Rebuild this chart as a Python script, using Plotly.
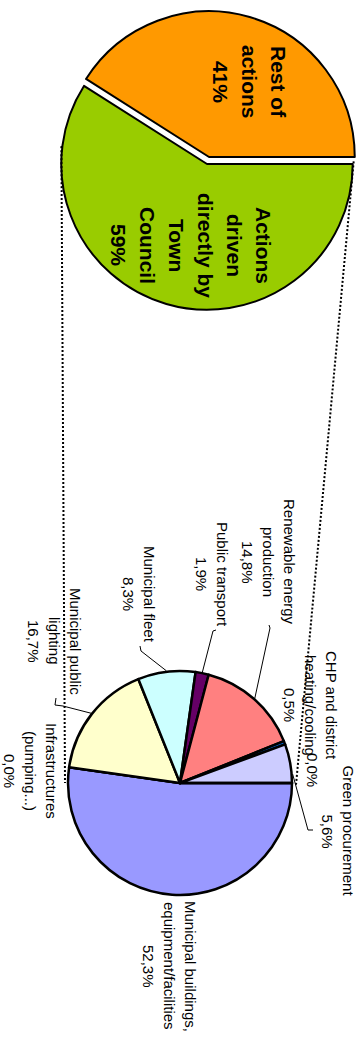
import math
import plotly.graph_objects as go

# ---------------- data ----------------
top_labels = ["Actions\ndriven\ndirectly by\nTown\nCouncil", "Rest of\nactions"]
top_values = [59, 41]
top_colors = ["#99CC00", "#FF9900"]

bottom_labels = [
    "Municipal buildings,\nequipment/facilities",
    "Infrastructures\n(pumping...)",
    "Municipal public\nlighting",
    "Municipal fleet",
    "Public transport",
    "Renewable energy\nproduction",
    "CHP and district\nheating/cooling",
    "Green procurement",
    "",
]
bottom_values = [52.3, 0.0, 16.7, 8.3, 1.9, 14.8, 0.5, 5.6, 0.0]
bottom_colors = ["#9999FF", "#993366", "#FFFFCC", "#CCFFFF", "#660066",
                 "#FF8080", "#0066CC", "#CCCCFF", "#000080"]

# ---------------- layout helpers ----------------
W, H = 360, 1040
FONT = "Arial, 'Liberation Sans', sans-serif"


def px(x):
    return x / W


def py(y):
    return 1 - y / H


TOP_C = (207.0, 164.0)
TOP_PULL = 0.05
TOP_BOX_X = (54.0, 360.0)
TOP_BOX_Y = (4.0, 324.0)
TOP_R = min(TOP_BOX_X[1] - TOP_BOX_X[0], TOP_BOX_Y[1] - TOP_BOX_Y[0]) / 2 / (1 + TOP_PULL)

BOT_C = (180.0, 783.0)
BOT_R = 112.0

fig = go.Figure()

fig.add_trace(go.Pie(
    values=top_values, labels=[l.replace("\n", " ") for l in top_labels],
    marker=dict(colors=top_colors, line=dict(color="black", width=2)),
    sort=False, direction="clockwise", rotation=90,
    pull=[0, TOP_PULL], textinfo="none", hoverinfo="label+percent",
    domain=dict(x=[px(TOP_BOX_X[0]), px(TOP_BOX_X[1])],
                y=[py(TOP_BOX_Y[1]), py(TOP_BOX_Y[0])]),
    showlegend=False,
))

fig.add_trace(go.Pie(
    values=bottom_values, labels=[l.replace("\n", " ") or "(other)" for l in bottom_labels],
    marker=dict(colors=bottom_colors, line=dict(color="black", width=2.5)),
    sort=False, direction="clockwise", rotation=90,
    textinfo="none", hoverinfo="label+percent",
    domain=dict(x=[px(BOT_C[0] - BOT_R), px(BOT_C[0] + BOT_R)],
                y=[py(BOT_C[1] + BOT_R), py(BOT_C[1] - BOT_R)]),
    showlegend=False,
))

annotations = []


def add_rotated_label(lines, cx, cy, size, spacing, bold=False):
    n = len(lines)
    for k, t in enumerate(lines):
        x = cx + ((n - 1) / 2 - k) * spacing
        txt = f"<b>{t}</b>" if bold else t
        annotations.append(dict(
            x=px(x), y=py(cy), xref="paper", yref="paper", text=txt,
            textangle=90, showarrow=False, xanchor="center", yanchor="middle",
            font=dict(family=FONT, size=size, color="black"),
        ))


# top pie labels
top_total = sum(top_values)
top_label_pos = [(191.5, 245.0), (249.0, 82.0)]
for lab, v, (cx, cy) in zip(top_labels, top_values, top_label_pos):
    lines = lab.split("\n") + [f"{round(100 * v / top_total)}%"]
    add_rotated_label(lines, cx, cy, 21, 29, bold=True)

# bottom pie labels
bot_label_pos = [(170, 966), (31, 771), (55, 641), (139.5, 594), (212.5, 574),
                 (269, 562), (311, 705), (338, 831), (313, 770)]
for lab, v, (cx, cy) in zip(bottom_labels, bottom_values, bot_label_pos):
    pct = f"{v:.1f}".replace(".", ",") + "%"
    lines = (lab.split("\n") if lab else []) + [pct]
    add_rotated_label(lines, cx, cy, 15, 21)

# slice mid angles (math convention, CCW from east), clockwise from east
total = sum(bottom_values)
mid_angles = []
acc = 0.0
for v in bottom_values:
    a0 = -acc / total * 360
    acc += v
    a1 = -acc / total * 360
    mid_angles.append((a0 + a1) / 2)


def on_circle(c, r, ang):
    return (c[0] + r * math.cos(math.radians(ang)), c[1] - r * math.sin(math.radians(ang)))


# leader lines: (slice index, start-angle override, elbow points)
leaders = [
    (5, None, [(270, 628), (269, 625)]),
    (4, None, [(213, 631), (216, 630)]),
    (3, None, [(141, 651), (140, 646)]),
    (2, None, [(63, 706), (55, 705), (56, 698)]),
    (7, 4.5, [(308, 830), (313, 830)]),
]
shapes = []
for idx, ang, pts in leaders:
    a = mid_angles[idx] % 360 if ang is None else ang
    s = on_circle(BOT_C, BOT_R + 1, a)
    path = f"M {px(s[0])} {py(s[1])} " + " ".join(f"L {px(x)} {py(y)}" for x, y in pts)
    shapes.append(dict(type="path", xref="paper", yref="paper", path=path,
                       line=dict(color="black", width=1)))

# dotted connector lines between the two pies
tl = on_circle(TOP_C, TOP_R + 1, 173)
tr = on_circle(TOP_C, TOP_R + 1, 1)
bl = on_circle(BOT_C, BOT_R + 3, 180)
br = on_circle(BOT_C, BOT_R + 4, -1)
for a, b in [(tl, bl), (tr, br)]:
    shapes.append(dict(type="line", xref="paper", yref="paper",
                       x0=px(a[0]), y0=py(a[1]), x1=px(b[0]), y1=py(b[1]),
                       line=dict(color="black", width=2, dash="2px,2px")))

fig.update_layout(
    width=W, height=H, margin=dict(l=0, r=0, t=0, b=0),
    paper_bgcolor="white", plot_bgcolor="white",
    showlegend=False, annotations=annotations, shapes=shapes,
    font=dict(family=FONT),
)

fig.write_html("out.html")
